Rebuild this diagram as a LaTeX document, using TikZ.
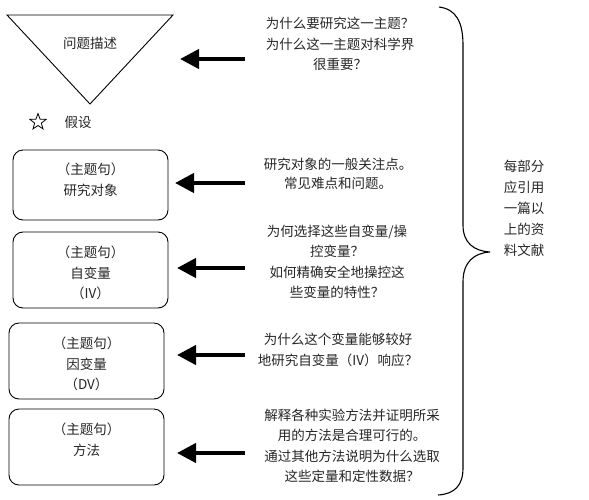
\documentclass[tikz,border=0pt]{standalone}
\usepackage{fontspec}
\setmainfont{Noto Sans CJK SC}
\usetikzlibrary{arrows.meta,shapes.geometric}
\begin{document}
\begin{tikzpicture}[x=1pt,y=-1pt,
  every node/.style={font=\fontsize{13.5}{20.5}\selectfont, text=black!85, inner sep=0pt},
  topicbox/.style={draw, line width=0.9pt, rounded corners=10pt},
  bigarrow/.style={line width=4.2pt, -{Triangle[length=19pt,width=19pt]}},
  desc/.style={align=center},
  bracepath/.style={line width=1.1pt}]
\useasboundingbox (0,0) rectangle (589,499);
% triangle
\coordinate (tA) at (7,15);
\coordinate (tB) at (173,15);
\coordinate (tC) at (90,104);
\draw[line width=0.9pt] (tA) -- (tB) -- (tC) -- cycle;
\node (problem) at (90,43) {问题描述};
% hypothesis
\node[star, star points=5, star point ratio=2.4, draw, line width=0.8pt, minimum size=17pt] (star) at (38,122) {};
\node (hyp) at (78,122) {假设};
% boxes
\node[topicbox, minimum width=155pt, minimum height=70pt] (b1) at (90.5,185) {};
\node[desc] at (90.5,180) {（主题句）\\研究对象};
\node[topicbox, minimum width=155pt, minimum height=76pt] (b2) at (90.5,270) {};
\node[desc] at (90.5,273) {（主题句）\\自变量\\（IV）};
\node[topicbox, minimum width=155pt, minimum height=76pt] (b3) at (86.5,361) {};
\node[desc] at (86.5,364) {（主题句）\\因变量\\（DV）};
\node[topicbox, minimum width=155pt, minimum height=76pt] (b4) at (86.5,447) {};
\node[desc] at (86.5,440) {（主题句）\\方法};
% descriptions
\node[desc] (d1) at (340,44) {为什么要研究这一主题？\\为什么这一主题对科学界\\很重要？};
\node[desc, font=\fontsize{13.5}{19}\selectfont] (d2) at (338,174) {研究对象的一般关注点。\\常见难点和问题。};
\node[desc] (d3) at (337,262) {为何选择这些自变量/操\\控变量？\\如何精确安全地操控这\\些变量的特性？};
\node[desc] (d4) at (338,350) {为什么这个变量能够较好\\地研究自变量（IV）响应？};
\node[desc] (d5) at (352,446) {解释各种实验方法并证明所采\\用的方法是合理可行的。\\通过其他方法说明为什么选取\\这些定量和定性数据？};
% arrows
\coordinate (s1) at (245,59); \coordinate (e1) at (180,59);
\coordinate (s2) at (245,183); \coordinate (e2) at (175,183);
\coordinate (s3) at (245,268); \coordinate (e3) at (177,268);
\coordinate (s4) at (245,355); \coordinate (e4) at (177,355);
\coordinate (s5) at (245,453); \coordinate (e5) at (177,453);
\foreach \i in {1,...,5} {\draw[bigarrow] (s\i) -- (e\i);}
% brace
\coordinate (brT) at (439,7);
\coordinate (brM) at (490,252);
\coordinate (brB) at (438,495);
\draw[bracepath] (brT) .. controls (456,9) and (463,22) .. (463,45)
  -- (463,225) .. controls (463,243) and (474,251) .. (brM)
  .. controls (474,253) and (463,262) .. (463,282)
  -- (463,468) .. controls (463,485) and (455,494) .. (brB);
\node[desc, font=\fontsize{13.5}{21}\selectfont] (note) at (524,208) {每部分\\应引用\\一篇以\\上的资\\料文献};
\end{tikzpicture}
\end{document}
